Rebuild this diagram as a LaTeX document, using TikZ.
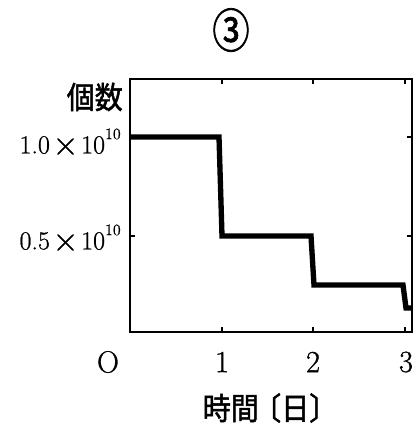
\documentclass[tikz,border=0pt]{standalone}
\usepackage{fontspec}
\newfontfamily\jp[AutoFakeBold=1.6]{Noto Sans CJK JP}
\newfontfamily\numf[FakeBold=0.9]{Latin Modern Roman}
\newcommand{\bigtimes}{\kern2pt\raisebox{-0.08em}{\fontsize{27}{27}\selectfont ×}\kern2pt}
\newcommand{\supten}{\raisebox{0.55em}{\fontsize{12}{12}\selectfont 10}}
\begin{document}
\begin{tikzpicture}[x=0.75pt,y=-0.75pt,
  frame/.style={line width=1.4pt},
  tick/.style={line width=1.2pt},
  curve/.style={line width=4pt, line join=miter},
  ylab/.style={anchor=east, inner sep=0pt, font=\numf\fontsize{19.5}{19.5}\selectfont},
  xlab/.style={inner sep=0pt, font=\numf\fontsize{23}{23}\selectfont},
  jlab/.style={inner sep=0pt, font=\jp\bfseries\fontsize{21}{21}\selectfont}]
\useasboundingbox (0,0) rectangle (413,425);
\clip (0,0) rectangle (413,425);
% frame
\draw[frame] (130,79) rectangle (412,332);
% ticks
\foreach \x in {222,313,405}{
  \draw[tick] (\x,332) -- (\x,327);
  \draw[tick] (\x,79) -- (\x,84);
}
\foreach \y in {137,236}{
  \draw[tick] (130,\y) -- (135,\y);
  \draw[tick] (412,\y) -- (407,\y);
}
% step curve
\coordinate (s0) at (131,137);
\coordinate (s1) at (219,137);
\coordinate (s2) at (222,236);
\coordinate (s3) at (311,236);
\coordinate (s4) at (314,285);
\coordinate (s5) at (403,285);
\coordinate (s6) at (406,308);
\coordinate (s7) at (414,308);
\draw[curve] (s0) -- (s1) -- (s2) -- (s3) -- (s4) -- (s5) -- (s6) -- (s7);
% labels
\node[jlab, font=\jp\bfseries\fontsize{28}{28}\selectfont, yscale=1.25] (title) at (231,30) {③};
\node[jlab, anchor=east, yscale=1.1] (ylabel) at (123,97) {個数};
\node[ylab] (y1) at (121,142) {1.0\bigtimes10\supten};
\node[ylab] (y05) at (121,238) {0.5\bigtimes10\supten};
\node[xlab] (x0) at (108,362) {O};
\node[xlab] (x1) at (222,362) {1};
\node[xlab] (x2) at (313,362) {2};
\node[xlab] (x3) at (406,362) {3};
\node[jlab, yscale=1.1] (xlabel) at (270,408) {時間\kern-0.2em〔日〕};
\end{tikzpicture}
\end{document}
